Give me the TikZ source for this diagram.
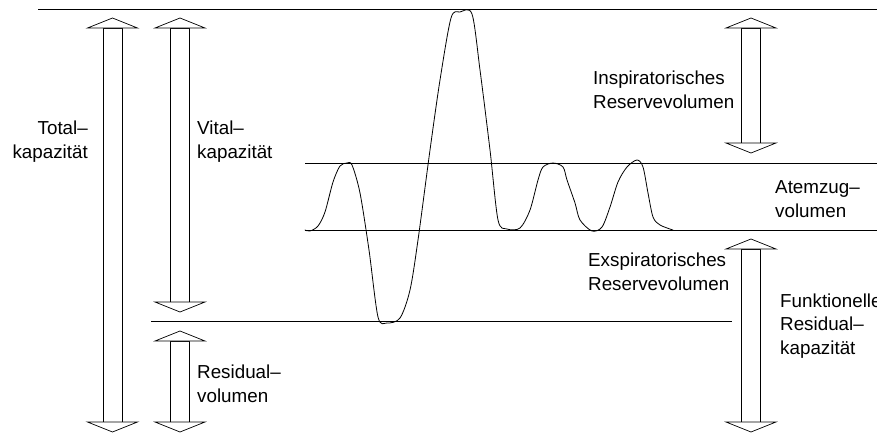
\documentclass[tikz,border=0pt]{standalone}
\usepackage{fontspec}
\setmainfont{Liberation Sans}
\tikzset{
  lbl/.style={font=\fontsize{18.8}{23.5}\selectfont, inner sep=0pt, align=left, anchor=base west},
  lblr/.style={font=\fontsize{18.8}{23.5}\selectfont, inner sep=0pt, align=right, anchor=base east},
  hline/.style={line width=0.8pt},
  barrow/.style={draw=black, fill=white, line width=0.7pt, line join=miter},
  curve/.style={line width=0.8pt, line join=round, line cap=round},
}
\newcommand{\blockarr}[3]{%
  \draw[barrow] (#1-9.5,#2+10) rectangle (#1+9.5,#3-10);
  \draw[barrow] (#1,#2) -- (#1+25,#2+10) -- (#1-25,#2+10) -- cycle;
  \draw[barrow] (#1,#3) -- (#1+25,#3-10) -- (#1-25,#3-10) -- cycle;
}
\begin{document}
\begin{tikzpicture}[x=1pt,y=-1pt]
\useasboundingbox (0,0) rectangle (877,437);
% horizontal reference lines
\coordinate (t1) at (38,9);     \coordinate (t2) at (877,9);
\coordinate (u1) at (305,163);  \coordinate (u2) at (877,163);
\coordinate (l1) at (305,230);  \coordinate (l2) at (877,230);
\coordinate (r1) at (151,321);  \coordinate (r2) at (732,321);
\draw[hline] (t1) -- (t2);
\draw[hline] (u1) -- (u2);
\draw[hline] (l1) -- (l2);
\draw[hline] (r1) -- (r2);
% block arrows
\blockarr{112.5}{18}{432}
\blockarr{180}{18}{312}
\blockarr{180}{331}{432}
\blockarr{751}{18}{153}
\blockarr{751}{239}{432}
% spirogram curve
\draw[curve] plot[smooth, tension=0.5] coordinates {
 (305,230) (310,231) (318,226) (325,212) (333,182) (340,166) (347,163) (352,165)
 (360,193) (369,250) (378,317) (387,323) (400,318) (410,290) (418,240) (430,150)
 (440,80) (451,18) (460,12) (472,14) (480,70) (490,150) (498,220) (507,229)
 (520,228) (530,210) (538,180) (543,167) (553,163) (563,167) (567,180) (575,203)
 (580,220) (592,231) (602,227) (610,207) (618,182) (627,167) (637,160) (643,167)
 (648,193) (653,217) (660,225) (673,230)};
% labels (anchor = baseline of the last line)
\node[lblr] (tk) at (88,158) {Total–\\kapazität};
\node[lbl] (vk) at (197,158) {Vital–\\kapazität};
\node[lbl] (rv) at (197,402) {Residual–\\volumen};
\node[lbl] (irv) at (593,108) {Inspiratorisches\\Reservevolumen};
\node[lbl] (av) at (775,217) {Atemzug–\\volumen};
\node[lbl] (erv) at (588,290) {Exspiratorisches\\Reservevolumen};
\node[lbl] (frc) at (780,354) {Funktionelle\\Residual–\\kapazität};
\end{tikzpicture}
\end{document}
